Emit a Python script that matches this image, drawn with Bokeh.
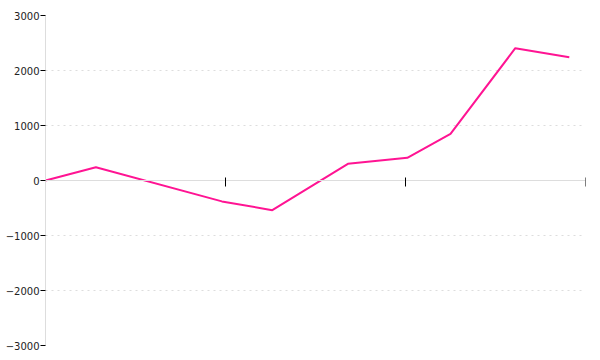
from bokeh.plotting import figure
from bokeh.models import FixedTicker, Range1d
from bokeh.embed import file_html
from bokeh.resources import INLINE

x_values = [0, 2.8, 9.8, 12.6, 16.8, 20.1, 22.5, 26.1, 29.1]
y_values = [0, 242, -380, -540, 304, 413, 848, 2405, 2242]
x_ticks = [0, 10, 20, 30]
y_ticks = [-3000, -2000, -1000, 0, 1000, 2000, 3000]

p = figure(width=600, height=360, output_backend="svg", toolbar_location=None,
           x_range=Range1d(0, 30), y_range=Range1d(-3000, 3000),
           min_border_left=45, min_border_right=15, min_border_top=15, min_border_bottom=15)
p.outline_line_color = None
p.background_fill_color = "white"
p.border_fill_color = "white"

p.line(x_values, y_values, line_color="#ff1493", line_width=2)

# y axis
ya = p.yaxis[0]
ya.ticker = FixedTicker(ticks=y_ticks)
ya.axis_line_color = "#dddddd"
ya.major_tick_line_color = "black"
ya.major_tick_in = 0
ya.major_tick_out = 5
ya.minor_tick_line_color = None
ya.major_label_standoff = 1
ya.major_label_text_font = "DejaVu Sans"
ya.major_label_text_font_size = "10px"
ya.major_label_text_color = "#222222"

# x axis fixed at y = 0
xa = p.xaxis[0]
xa.fixed_location = 0
xa.ticker = FixedTicker(ticks=x_ticks)
xa.axis_line_color = "#dddddd"
xa.major_tick_line_color = "black"
xa.major_tick_in = 3
xa.major_tick_out = 6
xa.minor_tick_line_color = None
xa.major_label_text_font_size = "0px"
xa.major_label_text_color = None

p.xgrid.grid_line_color = None
p.ygrid.ticker = FixedTicker(ticks=y_ticks)
p.ygrid.grid_line_color = "#dddddd"
p.ygrid.grid_line_dash = "2 4"

open("out.html", "w").write(file_html(p, INLINE))
